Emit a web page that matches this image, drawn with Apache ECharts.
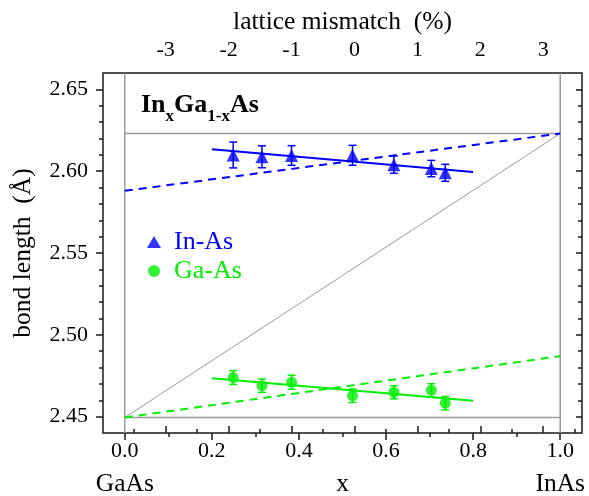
<!DOCTYPE html>
<html>
<head>
<meta charset="utf-8">
<script src="https://cdn.jsdelivr.net/npm/echarts@6/dist/echarts.min.js"></script>
<style>
html,body{margin:0;padding:0;background:#fff;}
#chart{width:589px;height:496px;}
</style>
</head>
<body>
<div id="chart"></div>
<script>
// ---------------- data ----------------
const compositionX = [0.249, 0.315, 0.383, 0.523, 0.618, 0.704, 0.736];
const inAsBond = [2.6099, 2.6088, 2.6096, 2.6097, 2.6040, 2.6016, 2.5990];
const inAsErr  = [0.0079, 0.0067, 0.0060, 0.0061, 0.0053, 0.0050, 0.0052];
const gaAsBond = [2.4739, 2.4689, 2.4710, 2.4628, 2.4649, 2.4661, 2.4582];
const gaAsErr  = [0.0042, 0.0041, 0.0043, 0.0041, 0.0040, 0.0040, 0.0041];
const fitX     = [0.2, 0.8];
const inAsFit  = [2.6134, 2.5995];
const gaAsFit  = [2.4734, 2.4597];
const endX     = [0, 1];
const inAsDash = [2.588, 2.623];
const gaAsDash = [2.4495, 2.487];
const vegard   = [2.4495, 2.623];          // GaAs and InAs bond lengths
const xTicks   = [0, 0.2, 0.4, 0.6, 0.8, 1.0];
const yTicks   = [2.45, 2.50, 2.55, 2.60, 2.65];
const pctTicks = [-3, -2, -1, 0, 1, 2, 3];
const mismatchEnds = [-3.65, 3.27];        // lattice mismatch (%) at x=0 and x=1
const endNames = ['GaAs', 'x', 'InAs'];
const seriesNames = ['In-As', 'Ga-As'];

// ---------------- layout ----------------
const W = 589, H = 496;
const L = 103, R = 582, T = 73, B = 433;
const X_MIN = -0.05, X_MAX = 1.05, Y_MIN = 2.44, Y_MAX = 2.66;
const px = x => L + (x - X_MIN) / (X_MAX - X_MIN) * (R - L);
const py = y => B - (y - Y_MIN) / (Y_MAX - Y_MIN) * (B - T);
const xOfPct = p => (p - mismatchEnds[0]) / (mismatchEnds[1] - mismatchEnds[0]);
const pxPct = p => px(xOfPct(p));

const FONT = 'Liberation Serif';
const BLUE = '#0000ff', GREEN = '#00ee00', GRAY = '#9a9a9a', AX = '#1a1a1a';
const TICK_FS = 22, NAME_FS = 25.5;

const chart = echarts.init(document.getElementById('chart'), null, {renderer: 'canvas'});

const step = a => a[1] - a[0];
const lineSeries = (name, xs, ys, color, width, type, z) => ({
  name, type: 'line', xAxisIndex: 0, yAxisIndex: 0,
  data: xs.map((x, i) => [x, ys[i]]), symbol: 'none', silent: true,
  lineStyle: {color, width, type}, z: z || 2, animation: false
});

const errSeries = (vals, errs, color) => ({
  type: 'custom', xAxisIndex: 0, yAxisIndex: 0, silent: true, z: 4,
  data: compositionX.map((x, i) => [x, vals[i] - errs[i], vals[i] + errs[i]]),
  renderItem: (params, api) => {
    const x = api.value(0);
    const p1 = api.coord([x, api.value(1)]);
    const p2 = api.coord([x, api.value(2)]);
    const c = 4;
    const st = {stroke: color, lineWidth: 1.5};
    return {type: 'group', children: [
      {type: 'line', shape: {x1: p1[0], y1: p1[1], x2: p2[0], y2: p2[1]}, style: st},
      {type: 'line', shape: {x1: p1[0] - c, y1: p1[1], x2: p1[0] + c, y2: p1[1]}, style: st},
      {type: 'line', shape: {x1: p2[0] - c, y1: p2[1], x2: p2[0] + c, y2: p2[1]}, style: st}
    ]};
  },
  animation: false
});

const labelStyle = {color: '#000', fontFamily: FONT, fontSize: TICK_FS};
const hiddenY = g => ({gridIndex: g, type: 'value', min: 0, max: 1, show: false});
const hiddenX = g => ({gridIndex: g, type: 'value', min: 0, max: 1, show: false});
const gridBox = (left, right, top, bottom, extra) =>
  Object.assign({left, right, top, bottom, outerBoundsMode: 'none', containLabel: false}, extra || {});

const option = {
  animation: false,
  backgroundColor: '#fff',
  title: {
    left: 136, top: 85,
    text: '{b|In}{s|x}{b|Ga}{s|1-x}{b|As}',
    textStyle: {
      rich: {
        b: {fontFamily: FONT, fontWeight: 'bold', fontSize: 26, color: '#000', lineHeight: 35, verticalAlign: 'top', padding: [2, 0, 0, 0]},
        s: {fontFamily: FONT, fontWeight: 'bold', fontSize: 17, color: '#000', lineHeight: 35, verticalAlign: 'bottom'}
      }
    }
  },
  legend: {
    orient: 'vertical', left: 142, top: 224, itemWidth: 14, itemHeight: 12, itemGap: 3,
    selectedMode: false,
    data: [
      {name: seriesNames[0], icon: 'triangle', textStyle: {color: BLUE}},
      {name: seriesNames[1], icon: 'circle', textStyle: {color: GREEN}}
    ],
    textStyle: {fontFamily: FONT, fontSize: 26, padding: [0, 0, 0, 8]}
  },
  grid: [
    gridBox(L, W - R, T, H - B, {show: true, borderColor: AX, borderWidth: 1.5, backgroundColor: 'transparent'}),
    gridBox(px(xTicks[0]), W - px(xTicks[xTicks.length - 1]), T, H - B),
    gridBox(L, W - R, py(yTicks[yTicks.length - 1]), H - py(yTicks[0])),
    gridBox(pxPct(pctTicks[0] - 0.5), W - pxPct(pctTicks[pctTicks.length - 1] + 0.5), T, H - B),
    gridBox(pxPct(pctTicks[0]), W - pxPct(pctTicks[pctTicks.length - 1]), T, H - B),
    gridBox(px(0), W - px(1), T, H - B)
  ],
  xAxis: [
    {gridIndex: 0, type: 'value', min: X_MIN, max: X_MAX, position: 'top', axisLine: {show: false}, axisTick: {show: false}, axisLabel: {show: false}, splitLine: {show: false},
     name: 'lattice mismatch  (%)', nameLocation: 'middle', nameGap: 38, nameTextStyle: {color: '#000', fontFamily: FONT, fontSize: NAME_FS}},
    {gridIndex: 1, type: 'value', position: 'bottom', min: xTicks[0], max: xTicks[xTicks.length - 1], interval: step(xTicks),
     axisLine: {show: false}, splitLine: {show: false},
     axisTick: {show: true, inside: false, length: 7, lineStyle: {color: AX, width: 1.5}},
     minorTick: {show: true, splitNumber: 2, length: 4, lineStyle: {color: AX, width: 1.5}},
     axisLabel: Object.assign({margin: 7, formatter: v => v.toFixed(1)}, labelStyle)},
    {gridIndex: 3, type: 'value', position: 'top', min: pctTicks[0] - 0.5, max: pctTicks[pctTicks.length - 1] + 0.5, interval: 0.5,
     axisLine: {show: false}, splitLine: {show: false}, axisLabel: {show: false},
     axisTick: {show: true, inside: false, length: 4, lineStyle: {color: AX, width: 1.5}}},
    {gridIndex: 4, type: 'value', position: 'top', min: pctTicks[0], max: pctTicks[pctTicks.length - 1], interval: step(pctTicks),
     axisLine: {show: false}, splitLine: {show: false},
     axisTick: {show: true, inside: false, length: 7, lineStyle: {color: AX, width: 1.5}},
     axisLabel: Object.assign({margin: 12, formatter: v => String(v)}, labelStyle)},
    {gridIndex: 5, type: 'value', position: 'bottom', min: 0, max: 1, interval: 0.5,
     axisLine: {show: false}, splitLine: {show: false}, axisTick: {show: false},
     axisLabel: {margin: 38, fontSize: NAME_FS, color: '#000', fontFamily: FONT, formatter: (v, i) => endNames[i]}},
    hiddenX(2)
  ],
  yAxis: [
    {gridIndex: 0, type: 'value', min: Y_MIN, max: Y_MAX, show: false},
    {gridIndex: 2, type: 'value', position: 'left', min: yTicks[0], max: yTicks[yTicks.length - 1], interval: step(yTicks),
     axisLine: {show: false}, splitLine: {show: false},
     axisTick: {show: true, inside: false, length: 7, lineStyle: {color: AX, width: 1.5}},
     minorTick: {show: true, splitNumber: 5, length: 4, lineStyle: {color: AX, width: 1.5}},
     axisLabel: Object.assign({margin: 15, formatter: v => v.toFixed(2)}, labelStyle),
     name: 'bond length  (\u00C5)', nameLocation: 'middle', nameGap: 67, nameRotate: 90,
     nameTextStyle: {color: '#000', fontFamily: FONT, fontSize: NAME_FS}},
    {gridIndex: 2, type: 'value', position: 'right', min: yTicks[0], max: yTicks[yTicks.length - 1], interval: step(yTicks),
     axisLine: {show: false}, splitLine: {show: false}, axisLabel: {show: false},
     axisTick: {show: true, inside: true, length: 6, lineStyle: {color: AX, width: 1.5}},
     minorTick: {show: true, splitNumber: 5, length: 4, lineStyle: {color: AX, width: 1.5}}},
    hiddenY(1), hiddenY(3), hiddenY(4), hiddenY(5)
  ],
  series: [
    lineSeries('ref0', [endX[0], endX[0]], [Y_MIN, Y_MAX], GRAY, 1.5, 'solid', 1),
    lineSeries('ref1', [endX[1], endX[1]], [Y_MIN, Y_MAX], GRAY, 1.5, 'solid', 1),
    lineSeries('refInAs', endX, [vegard[1], vegard[1]], GRAY, 1.5, 'solid', 1),
    lineSeries('refGaAs', endX, [vegard[0], vegard[0]], GRAY, 1.5, 'solid', 1),
    lineSeries('vegard', endX, vegard, GRAY, 1, 'solid', 1),
    lineSeries('inDash', endX, inAsDash, BLUE, 2, [8, 6], 2),
    lineSeries('gaDash', endX, gaAsDash, GREEN, 2, [8, 6], 2),
    lineSeries('inFit', fitX, inAsFit, BLUE, 2, 'solid', 3),
    lineSeries('gaFit', fitX, gaAsFit, GREEN, 2, 'solid', 3),
    errSeries(inAsBond, inAsErr, BLUE),
    errSeries(gaAsBond, gaAsErr, GREEN),
    {name: seriesNames[0], type: 'scatter', xAxisIndex: 0, yAxisIndex: 0, symbol: 'triangle', symbolSize: 13,
     itemStyle: {color: BLUE}, data: compositionX.map((x, i) => [x, inAsBond[i]]), z: 5, silent: true},
    {name: seriesNames[1], type: 'scatter', xAxisIndex: 0, yAxisIndex: 0, symbol: 'circle', symbolSize: 11,
     itemStyle: {color: GREEN}, data: compositionX.map((x, i) => [x, gaAsBond[i]]), z: 5, silent: true}
  ]
};
chart.setOption(option);
</script>
</body>
</html>
